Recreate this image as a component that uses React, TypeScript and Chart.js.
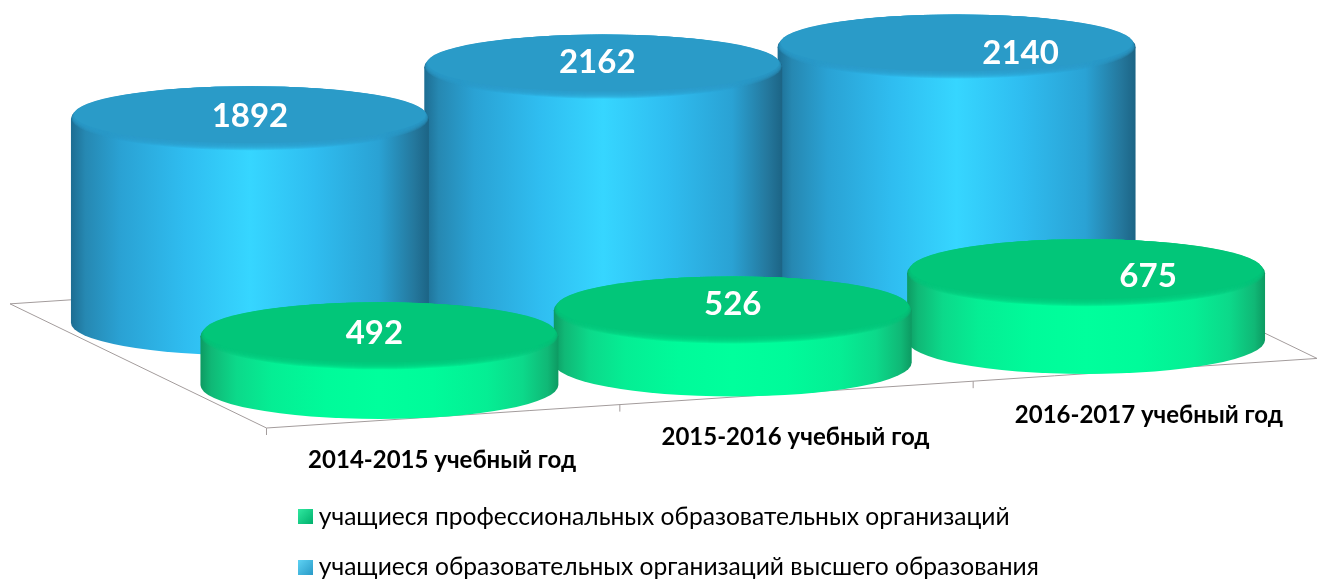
import React, { useEffect, useRef } from "react";
import { Chart, registerables } from "chart.js";

Chart.register(...registerables);

const categories = ["2014-2015 учебный год", "2015-2016 учебный год", "2016-2017 учебный год"];
const higherEducation = [1892, 2162, 2140];
const professional = [492, 526, 675];
const seriesNames = [
  "учащиеся образовательных организаций высшего образования",
  "учащиеся профессиональных образовательных организаций",
];

const FONT = "Lato, 'Open Sans', sans-serif";
const palette = [
  {
    cap: "#2a9bc8",
    ry: 32.5,
    stops: [[0, "#1d6d92"], [0.04, "#2688b2"], [0.14, "#2aa2d4"], [0.32, "#2fbdf0"], [0.5, "#36d6ff"], [0.68, "#2fbdf0"], [0.86, "#2aa2d4"], [0.96, "#24779c"], [1, "#1c6485"]],
    swatch: ["#5fd3f5", "#2a9bc8"],
  },
  {
    cap: "#02c679",
    ry: 34,
    stops: [[0, "#0d9a62"], [0.03, "#10b876"], [0.1, "#0cd98a"], [0.2, "#05ee94"], [0.35, "#00fb9a"], [0.5, "#00ff9c"], [0.65, "#00fb9a"], [0.8, "#05ee94"], [0.9, "#0cd98a"], [0.97, "#10b876"], [1, "#0d9a62"]],
    swatch: ["#30e8a0", "#00b06c"],
  },
];

// projection constants of the pseudo-3D view
const TILT = -22.5; // px the floor rises per category
const RX_RATIO = 1.382; // cylinder half-width / bar width
const LABEL_SHIFT = [
  [[0, -2], [-6, -5], [64, 6]],
  [[-5, -3], [0, -6], [62, 3]],
];

function mkGradient(ctx: CanvasRenderingContext2D, x0: number, x1: number, stops: any[]) {
  const g = ctx.createLinearGradient(x0, 0, x1, 0);
  stops.forEach(([o, c]) => g.addColorStop(o, c));
  return g;
}

function drawCylinder(ctx: CanvasRenderingContext2D, cx: number, top: number, base: number, rx: number, ry: number, p: any) {
  const grad = mkGradient(ctx, cx - rx, cx + rx, p.stops);
  ctx.beginPath();
  ctx.moveTo(cx - rx, top);
  ctx.lineTo(cx - rx, base);
  ctx.ellipse(cx, base, rx, ry, 0, Math.PI, 0, true);
  ctx.lineTo(cx + rx, top);
  ctx.closePath();
  ctx.fillStyle = grad;
  ctx.fill();

  ctx.beginPath();
  ctx.ellipse(cx, top, rx, ry, 0, 0, Math.PI * 2);
  ctx.fillStyle = grad;
  ctx.fill();
  const n = 8;
  ctx.fillStyle = p.cap;
  for (let k = 1; k <= n; k++) {
    const t = k / n;
    ctx.globalAlpha = k === n ? 1 : 0.28;
    ctx.beginPath();
    ctx.ellipse(cx, top - t * 4, rx - t * 3, ry - t * 4, 0, 0, Math.PI * 2);
    ctx.fill();
  }
  ctx.globalAlpha = 1;
}

const cylinderPlugin = {
  id: "cylinders",
  afterLayout(chart: any) {
    const lg = chart.legend;
    const pad = lg.options.labels.padding;
    lg.left = 304.5 - pad;
    lg.right = chart.width;
    const h = lg.bottom - lg.top;
    lg.top = chart.height - h + 9.5;
    lg.bottom = lg.top + h;
  },
  beforeDatasetsDraw(chart: any) {
    const { ctx } = chart;
    const xs = chart.scales.x;
    const yFront = chart.scales.yFront;
    const band = xs.getPixelForTick(1) - xs.getPixelForTick(0);
    const depthX = 2 * (chart.getDatasetMeta(1).data[0].x - xs.getPixelForTick(0));
    const zeroFront = yFront.getPixelForValue(0);
    const edgeStartX = xs.left + depthX - 1;
    const edgeStartY = zeroFront + 43;
    const slope = (TILT / band) * 1.04;
    const edgeY = (x: number) => edgeStartY + (x - edgeStartX) * slope;

    // floor
    ctx.save();
    ctx.strokeStyle = "#a39c9c";
    ctx.lineWidth = 1;
    const leftX = 10;
    const leftY = edgeStartY - (edgeStartX - leftX) * 0.484;
    const rightX = chart.width;
    const rightY = edgeY(rightX);
    ctx.beginPath();
    ctx.moveTo(leftX + band, leftY + band * slope);
    ctx.lineTo(leftX, leftY);
    ctx.lineTo(edgeStartX, edgeStartY);
    ctx.lineTo(rightX, rightY);
    ctx.lineTo(rightX - 256, rightY - 256 * 0.484);
    ctx.stroke();
    for (let i = 0; i < categories.length; i++) {
      const x = edgeStartX + i * band;
      ctx.beginPath();
      ctx.moveTo(x, edgeY(x));
      ctx.lineTo(x, edgeY(x) + 7);
      ctx.stroke();
    }
    ctx.restore();

    // cylinders, back series first, right to left
    const metas = [chart.getDatasetMeta(0), chart.getDatasetMeta(1)];
    metas.forEach((meta, d) => {
      for (let i = meta.data.length - 1; i >= 0; i--) {
        const bar = meta.data[i];
        const rx = bar.width * RX_RATIO;
        drawCylinder(ctx, bar.x, bar.y + TILT * i, bar.base + TILT * i, rx, palette[d].ry, palette[d]);
      }
    });

    // value labels
    ctx.save();
    ctx.fillStyle = "#ffffff";
    ctx.font = `bold 33px ${FONT}`;
    ctx.textAlign = "center";
    ctx.textBaseline = "middle";
    metas.forEach((meta, d) => {
      meta.data.forEach((bar: any, i: number) => {
        const [sx, sy] = LABEL_SHIFT[d][i];
        const v = chart.data.datasets[d].data[i];
        ctx.fillText(String(v), bar.x + sx, bar.y + TILT * i + sy);
      });
    });

    // category labels
    ctx.fillStyle = "#000000";
    ctx.font = `bold 24px ${FONT}`;
    xs.getLabels().forEach((label: string, i: number) => {
      ctx.fillText(label, xs.getPixelForTick(i) + depthX - 2, zeroFront + TILT * i + 75);
    });
    ctx.restore();
    return false;
  },
};

function swatch(colors: string[]) {
  const c = document.createElement("canvas");
  c.width = 15;
  c.height = 15;
  const x = c.getContext("2d")!;
  const g = x.createLinearGradient(0, 0, 15, 15);
  g.addColorStop(0, colors[0]);
  g.addColorStop(1, colors[1]);
  x.fillStyle = g;
  x.fillRect(0, 0, 15, 15);
  return c;
}

export default function App() {
  const ref = useRef<HTMLCanvasElement>(null);
  useEffect(() => {
    document.body.style.margin = "0";
    const chart: any = new Chart(ref.current!, {
      type: "bar",
      data: {
        labels: categories,
        datasets: [
          { label: seriesNames[0], data: higherEducation, backgroundColor: palette[0].cap, yAxisID: "y", categoryPercentage: 0.733, barPercentage: 1 },
          { label: seriesNames[1], data: professional, backgroundColor: palette[1].cap, yAxisID: "yFront", categoryPercentage: 0.733, barPercentage: 1 },
        ],
      },
      options: {
        responsive: false,
        animation: false,
        layout: { padding: { left: 138, right: 119, top: 0, bottom: 0 } },
        scales: {
          x: { display: false },
          y: { display: false, min: -1000, max: 323 / 0.108 },
          yFront: { display: false, min: -1000, max: 385 / 0.099 },
        },
        plugins: {
          tooltip: { enabled: false },
          legend: {
            display: true,
            position: "bottom",
            align: "start",
            reverse: true,
            labels: {
              padding: 26,
              color: "#000",
              font: { family: FONT, size: 24.6 },
              usePointStyle: true,
              pointStyleWidth: 2,
              generateLabels(c: any) {
                const items = Chart.defaults.plugins.legend.labels.generateLabels(c);
                items.forEach((it: any, idx: number) => {
                  it.pointStyle = swatch(palette[idx].swatch);
                });
                return items;
              },
            },
          },
        },
      } as any,
      plugins: [cylinderPlugin],
    });
    const B = chart.chartArea.bottom;
    chart.options.scales.y.min = -(B - 323) / 0.108;
    chart.options.scales.yFront.min = -(B - 385) / 0.099;
    chart.update();
    return () => chart.destroy();
  }, []);
  return <canvas ref={ref} width={1317} height={580} style={{ display: "block" }} />;
}
